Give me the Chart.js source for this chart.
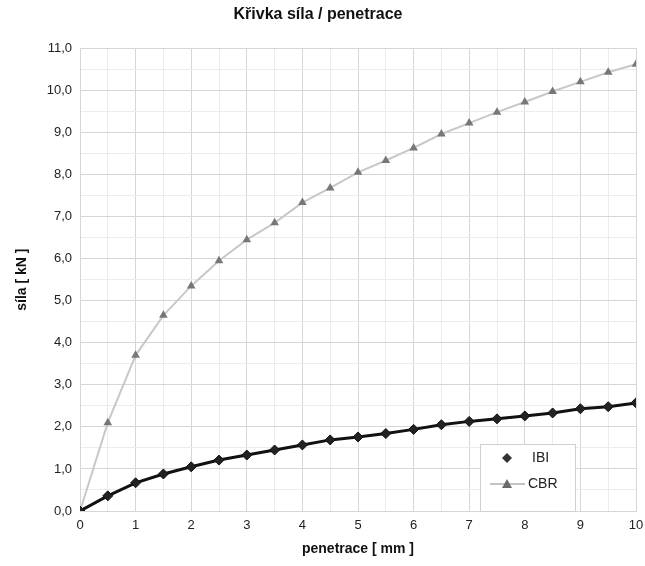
<!DOCTYPE html>
<html>
<head>
<meta charset="utf-8">
<script src="https://cdn.jsdelivr.net/npm/chart.js@4/dist/chart.umd.min.js"></script>
<style>
  html, body { margin: 0; padding: 0; background: #fff; }
  #wrap { width: 645px; height: 566px; }
</style>
</head>
<body>
<div id="wrap"><canvas id="silaChart" width="645" height="566"></canvas></div>
<script>
// penetrace [mm]
var penetrace = [0, 0.5, 1, 1.5, 2, 2.5, 3, 3.5, 4, 4.5, 5, 5.5, 6, 6.5, 7, 7.5, 8, 8.5, 9, 9.5, 10];
// sila [kN]
var ibi = [0, 0.36, 0.67, 0.88, 1.05, 1.21, 1.33, 1.45, 1.57, 1.69, 1.76, 1.84, 1.94, 2.05, 2.13, 2.19, 2.26, 2.33, 2.43, 2.48, 2.57];
var cbr = [0, 2.10, 3.70, 4.65, 5.35, 5.95, 6.45, 6.85, 7.33, 7.68, 8.05, 8.33, 8.63, 8.96, 9.22, 9.48, 9.72, 9.97, 10.20, 10.43, 10.62];
var seriesNames = ["IBI", "CBR"];

var fontFam = "'Liberation Sans', Arial, sans-serif";

function toPoints(xs, ys) {
  return xs.map(function (x, i) { return { x: x, y: ys[i] }; });
}

// legenda uvnitr grafu (vpravo dole)
var insideLegend = {
  id: 'insideLegend',
  afterDraw: function (chart) {
    var ctx = chart.ctx;
    var area = chart.chartArea;
    var w = 95, h = 67;
    var x0 = area.right - 61 - w;
    var y0 = area.bottom - h;
    ctx.save();
    ctx.fillStyle = '#fff';
    ctx.fillRect(x0, y0, w, h);
    ctx.strokeStyle = '#d0d0d0';
    ctx.lineWidth = 1;
    ctx.strokeRect(x0 + 0.5, y0 + 0.5, w, h);

    // IBI
    var cy = y0 + 14;
    ctx.fillStyle = '#333';
    ctx.beginPath();
    ctx.moveTo(x0 + 27, cy - 5);
    ctx.lineTo(x0 + 32, cy);
    ctx.lineTo(x0 + 27, cy + 5);
    ctx.lineTo(x0 + 22, cy);
    ctx.closePath();
    ctx.fill();
    ctx.font = '14px ' + fontFam;
    ctx.textBaseline = 'middle';
    ctx.fillStyle = '#222';
    ctx.fillText(seriesNames[0], x0 + 52, cy);

    // CBR
    cy = y0 + 40;
    ctx.strokeStyle = '#c4c4c4';
    ctx.lineWidth = 2;
    ctx.beginPath();
    ctx.moveTo(x0 + 10, cy);
    ctx.lineTo(x0 + 45, cy);
    ctx.stroke();
    ctx.fillStyle = '#6a6a6a';
    ctx.beginPath();
    ctx.moveTo(x0 + 27, cy - 5);
    ctx.lineTo(x0 + 32, cy + 4);
    ctx.lineTo(x0 + 22, cy + 4);
    ctx.closePath();
    ctx.fill();
    ctx.fillStyle = '#222';
    ctx.fillText(seriesNames[1], x0 + 48, cy);
    ctx.restore();
  }
};

function gridCol(ctx) {
  var v = ctx.tick ? ctx.tick.value : 0;
  return Math.abs(v - Math.round(v)) < 0.01 ? '#d6d6d6' : '#ececec';
}

var chrt = document.getElementById("silaChart").getContext('2d');
var myChart = new Chart(chrt, {
  type: 'line',
  data: {
    datasets: [{
      label: seriesNames[0],
      data: toPoints(penetrace, ibi),
      borderColor: '#111',
      backgroundColor: '#222',
      borderWidth: 3,
      pointStyle: 'rectRot',
      pointRadius: 5,
      pointBorderWidth: 1,
      pointBorderColor: '#111',
      tension: 0
    }, {
      label: seriesNames[1],
      data: toPoints(penetrace, cbr),
      borderColor: '#c8c8c8',
      backgroundColor: '#777',
      borderWidth: 2,
      pointStyle: 'triangle',
      pointRadius: 5,
      pointBorderWidth: 0,
      tension: 0
    }]
  },
  options: {
    responsive: false,
    animation: false,
    layout: { padding: { left: 0, right: 9, top: 0, bottom: 8 } },
    plugins: {
      legend: { display: false },
      tooltip: { enabled: false },
      title: {
        display: true,
        text: 'Křivka síla / penetrace',
        color: '#111',
        font: { family: fontFam, size: 16, weight: 'bold' },
        padding: { top: 5, bottom: 24 }
      }
    },
    scales: {
      x: {
        type: 'linear',
        min: 0,
        max: 10,
        afterFit: function (scale) {
          scale.height = 47;
          scale.paddingRight = 0;
        },
        ticks: {
          stepSize: 0.5,
          autoSkip: false,
          maxRotation: 0,
          color: '#222',
          font: { family: fontFam, size: 13 },
          padding: 7,
          callback: function (v) {
            return Number.isInteger(v) ? String(v) : '';
          }
        },
        grid: { color: gridCol, drawTicks: false },
        border: { color: '#d6d6d6' },
        title: {
          display: true,
          text: 'penetrace [ mm ]',
          color: '#111',
          font: { family: fontFam, size: 14, weight: 'bold' },
          padding: { top: 0, bottom: 0 }
        }
      },
      y: {
        min: 0,
        max: 11,
        afterFit: function (scale) { scale.width = 80; },
        ticks: {
          stepSize: 0.5,
          autoSkip: false,
          color: '#222',
          font: { family: fontFam, size: 13 },
          padding: 8,
          callback: function (v) {
            return Number.isInteger(v) ? v.toFixed(1).replace('.', ',') : '';
          }
        },
        grid: { color: gridCol, drawTicks: false },
        border: { color: '#d6d6d6' },
        title: {
          display: true,
          text: 'síla [ kN ]',
          color: '#111',
          font: { family: fontFam, size: 14, weight: 'bold' },
          padding: { top: 14, bottom: 8 }
        }
      }
    }
  },
  plugins: [insideLegend]
});
</script>
</body>
</html>
